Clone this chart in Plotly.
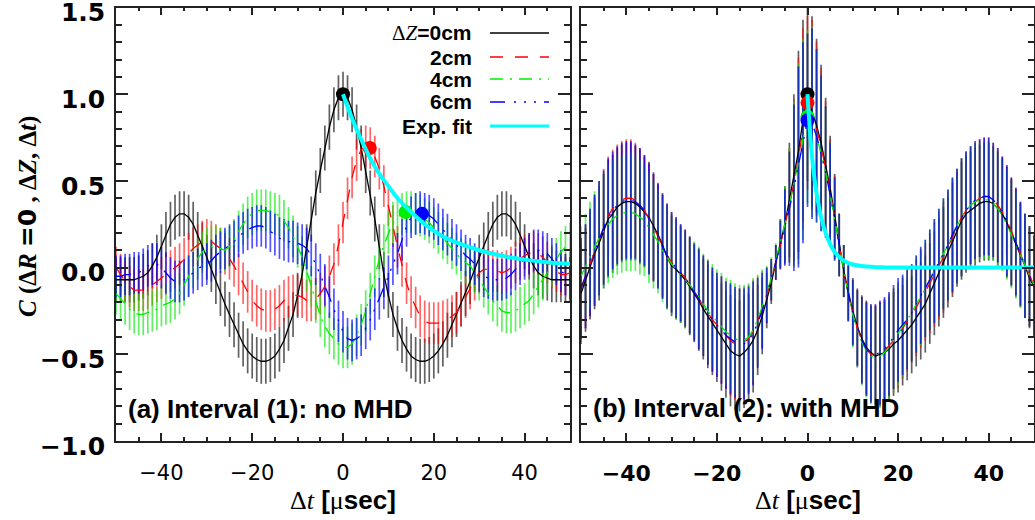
import plotly.graph_objects as go

# ---------------- data ----------------
t = list(range(-50, 51))

# panel (a): Interval (1), no MHD
a_dz0 = [-0.07,-0.07,-0.07,-0.07,-0.07,-0.06,-0.05,-0.03,0.01,0.06,
         0.12,0.19,0.25,0.29,0.31,0.31,0.29,0.25,0.19,0.13,
         0.06,-0.01,-0.08,-0.15,-0.21,-0.27,-0.33,-0.39,-0.44,-0.48,
         -0.51,-0.53,-0.54,-0.54,-0.53,-0.51,-0.47,-0.42,-0.35,-0.27,
         -0.16,-0.04,0.12,0.28,0.43,0.56,0.69,0.81,0.91,0.98,
         1.00,
         0.98,0.91,0.81,0.69,0.56,0.43,0.28,0.12,-0.04,-0.16,
         -0.27,-0.35,-0.42,-0.47,-0.51,-0.53,-0.54,-0.54,-0.53,-0.51,
         -0.48,-0.44,-0.39,-0.33,-0.27,-0.21,-0.15,-0.08,-0.01,0.06,
         0.13,0.19,0.25,0.29,0.31,0.31,0.29,0.25,0.19,0.12,
         0.06,0.01,-0.03,-0.05,-0.06,-0.07,-0.07,-0.07,-0.07,-0.07]
a_dz2 = [0.00,-0.04,-0.08,-0.11,-0.13,-0.13,-0.13,-0.12,-0.10,-0.08,
         -0.06,-0.04,-0.02,0.00,0.02,0.05,0.08,0.11,0.13,0.15,
         0.16,0.15,0.13,0.11,0.08,0.05,0.01,-0.04,-0.09,-0.14,
         -0.19,-0.22,-0.24,-0.25,-0.25,-0.24,-0.22,-0.19,-0.17,-0.16,
         -0.16,-0.17,-0.19,-0.19,-0.18,-0.15,-0.11,-0.05,0.02,0.13,
         0.26,
         0.40,0.52,0.62,0.68,0.70,0.69,0.64,0.57,0.47,0.36,
         0.24,0.12,0.01,-0.09,-0.17,-0.23,-0.28,-0.31,-0.32,-0.32,
         -0.32,-0.31,-0.30,-0.28,-0.26,-0.22,-0.17,-0.12,-0.07,-0.03,
         -0.01,-0.01,-0.02,-0.02,-0.03,-0.02,0.00,0.03,0.05,0.07,
         0.08,0.09,0.08,0.06,0.03,0.00,-0.02,-0.04,-0.04,-0.03]
a_dz4 = [-0.15,-0.18,-0.21,-0.24,-0.26,-0.27,-0.27,-0.26,-0.25,-0.24,
         -0.22,-0.21,-0.20,-0.18,-0.15,-0.10,-0.05,0.00,0.05,0.09,
         0.11,0.12,0.12,0.11,0.10,0.12,0.16,0.21,0.25,0.29,
         0.31,0.33,0.33,0.33,0.32,0.31,0.30,0.27,0.23,0.18,
         0.12,0.06,-0.02,-0.11,-0.20,-0.28,-0.34,-0.38,-0.41,-0.44,
         -0.46,
         -0.46,-0.44,-0.39,-0.33,-0.25,-0.15,-0.05,0.05,0.13,0.20,
         0.26,0.29,0.31,0.32,0.32,0.31,0.30,0.28,0.26,0.23,
         0.20,0.17,0.14,0.11,0.08,0.05,0.03,0.01,-0.03,-0.07,
         -0.11,-0.15,-0.19,-0.22,-0.25,-0.26,-0.26,-0.25,-0.23,-0.21,
         -0.19,-0.15,-0.11,-0.07,-0.03,0.01,0.05,0.09,0.12,0.14]
a_dz6 = [-0.05,-0.05,-0.04,-0.04,-0.03,-0.03,-0.01,0.01,0.02,0.02,
         0.00,-0.03,-0.06,-0.08,-0.08,-0.07,-0.05,-0.03,-0.01,0.01,
         0.02,0.04,0.07,0.09,0.11,0.13,0.15,0.18,0.20,0.22,
         0.23,0.24,0.24,0.23,0.21,0.19,0.17,0.16,0.15,0.15,
         0.14,0.13,0.11,0.07,0.02,-0.04,-0.10,-0.17,-0.24,-0.31,
         -0.37,
         -0.41,-0.42,-0.41,-0.39,-0.35,-0.30,-0.24,-0.18,-0.12,-0.05,
         0.02,0.08,0.16,0.24,0.29,0.31,0.32,0.31,0.30,0.28,
         0.25,0.22,0.19,0.16,0.13,0.10,0.07,0.05,0.02,-0.02,
         -0.05,-0.06,-0.07,-0.07,-0.07,-0.06,-0.04,-0.01,0.02,0.05,
         0.08,0.10,0.10,0.09,0.08,0.05,0.02,-0.02,-0.04,-0.06]
a_err = [0.13, 0.12, 0.12, 0.12]          # error bar half-length per series
a_peak_t = [0.0, 5.9, 13.8, 17.4]          # peak lag of each series
a_peak_c = [1.00, 0.69, 0.32, 0.31]
a_fit_t = [0, 2, 4, 6, 8, 10, 12, 15, 18, 22, 26, 30, 35, 40, 45, 50]
a_fit_c = [1.00, 0.86, 0.74, 0.63, 0.54, 0.47, 0.40, 0.32, 0.25, 0.18, 0.135, 0.10, 0.068, 0.046, 0.031, 0.021]

# panel (b): Interval (2), with MHD
b_dz0 = [-0.15,-0.07,0.01,0.08,0.14,0.21,0.28,0.31,0.35,0.37,
         0.38,0.38,0.37,0.35,0.32,0.29,0.24,0.19,0.13,0.06,
         0.01,-0.01,-0.04,-0.07,-0.11,-0.15,-0.19,-0.24,-0.28,-0.32,
         -0.36,-0.40,-0.44,-0.48,-0.50,-0.51,-0.49,-0.46,-0.42,-0.36,
         -0.28,-0.19,-0.09,0.03,0.14,0.25,0.39,0.52,0.67,0.85,
         1.00,
         0.90,0.82,0.72,0.60,0.46,0.30,0.13,-0.02,-0.14,-0.25,
         -0.34,-0.41,-0.46,-0.49,-0.51,-0.50,-0.49,-0.47,-0.44,-0.42,
         -0.39,-0.36,-0.33,-0.29,-0.25,-0.21,-0.15,-0.09,-0.03,0.03,
         0.09,0.16,0.22,0.27,0.31,0.33,0.35,0.37,0.38,0.38,
         0.37,0.34,0.31,0.26,0.20,0.14,0.07,0.01,-0.06,-0.11]
b_dz2 = [-0.12,-0.05,0.03,0.10,0.17,0.24,0.30,0.34,0.37,0.39,
         0.40,0.40,0.39,0.36,0.33,0.28,0.23,0.18,0.12,0.07,
         0.03,0.00,-0.03,-0.06,-0.10,-0.14,-0.18,-0.22,-0.26,-0.30,
         -0.33,-0.36,-0.39,-0.42,-0.44,-0.44,-0.43,-0.41,-0.37,-0.31,
         -0.24,-0.16,-0.07,0.03,0.13,0.24,0.36,0.49,0.63,0.80,
         0.95,
         0.88,0.80,0.70,0.58,0.44,0.29,0.13,-0.02,-0.15,-0.26,
         -0.35,-0.42,-0.47,-0.50,-0.51,-0.50,-0.48,-0.45,-0.42,-0.39,
         -0.35,-0.31,-0.27,-0.23,-0.18,-0.14,-0.09,-0.04,0.01,0.06,
         0.12,0.18,0.24,0.29,0.33,0.36,0.38,0.40,0.41,0.41,
         0.39,0.36,0.32,0.27,0.21,0.15,0.08,0.01,-0.05,-0.10]
b_dz4 = [-0.05,0.01,0.07,0.12,0.17,0.21,0.25,0.28,0.30,0.31,
         0.32,0.32,0.31,0.29,0.27,0.23,0.19,0.15,0.10,0.06,
         0.02,-0.01,-0.04,-0.07,-0.10,-0.13,-0.17,-0.21,-0.25,-0.28,
         -0.31,-0.34,-0.37,-0.39,-0.41,-0.42,-0.42,-0.40,-0.36,-0.30,
         -0.23,-0.15,-0.06,0.04,0.14,0.25,0.36,0.48,0.60,0.74,
         0.87,
         0.84,0.76,0.66,0.55,0.42,0.28,0.13,-0.02,-0.15,-0.27,
         -0.36,-0.43,-0.48,-0.51,-0.52,-0.51,-0.49,-0.46,-0.42,-0.38,
         -0.34,-0.30,-0.26,-0.21,-0.17,-0.12,-0.07,-0.02,0.03,0.08,
         0.13,0.19,0.24,0.29,0.33,0.36,0.38,0.39,0.39,0.39,
         0.37,0.34,0.30,0.25,0.19,0.13,0.07,0.01,-0.05,-0.10]
b_dz6 = [-0.12,-0.05,0.03,0.10,0.17,0.23,0.29,0.33,0.36,0.38,
         0.39,0.39,0.38,0.36,0.33,0.28,0.23,0.18,0.12,0.07,
         0.03,0.00,-0.03,-0.06,-0.10,-0.14,-0.18,-0.22,-0.26,-0.30,
         -0.33,-0.36,-0.39,-0.41,-0.43,-0.44,-0.44,-0.42,-0.38,-0.32,
         -0.25,-0.16,-0.07,0.03,0.13,0.23,0.34,0.46,0.58,0.72,
         0.85,
         0.83,0.76,0.66,0.55,0.42,0.28,0.13,-0.02,-0.15,-0.26,
         -0.35,-0.42,-0.47,-0.50,-0.50,-0.49,-0.47,-0.44,-0.40,-0.36,
         -0.33,-0.30,-0.26,-0.21,-0.16,-0.12,-0.07,-0.02,0.03,0.08,
         0.13,0.19,0.24,0.29,0.33,0.36,0.39,0.40,0.41,0.41,
         0.39,0.36,0.32,0.27,0.21,0.15,0.08,0.01,-0.05,-0.10]
b_err = [0.29,0.30,0.31,0.32,0.33,0.33,0.34,0.34,0.34,0.34,
         0.34,0.34,0.33,0.33,0.32,0.32,0.31,0.30,0.30,0.30,
         0.29,0.29,0.28,0.28,0.28,0.28,0.29,0.29,0.30,0.30,
         0.30,0.31,0.31,0.32,0.32,0.32,0.32,0.31,0.30,0.26,
         0.22,0.16,0.12,0.10,0.14,0.22,0.33,0.48,0.58,0.58,
         0.50,
         0.55,0.50,0.45,0.38,0.30,0.24,0.18,0.15,0.16,0.19,
         0.22,0.25,0.27,0.28,0.29,0.30,0.30,0.30,0.30,0.30,
         0.29,0.29,0.28,0.28,0.28,0.28,0.29,0.30,0.31,0.32,
         0.32,0.33,0.33,0.34,0.34,0.34,0.34,0.34,0.34,0.34,
         0.33,0.33,0.32,0.32,0.31,0.31,0.30,0.30,0.29,0.29]
b_peak_t = [0.0, 0.0, 0.0, 0.0]
b_peak_c = [1.00, 0.95, 0.87, 0.85]
b_fit_t = [0, 0.5, 1, 1.5, 2, 3, 4, 5, 6, 8, 10, 13, 16, 20, 30, 40, 50]
b_fit_c = [1.00, 0.80, 0.64, 0.52, 0.43, 0.29, 0.20, 0.135, 0.09, 0.04, 0.018, 0.006, 0.002, 0.0, 0.0, 0.0, 0.0]

y_ticks = [-1.0, -0.5, 0.0, 0.5, 1.0, 1.5]
x_ticks = [-40, -20, 0, 20, 40]
legend_labels = ["=0cm", "2cm", "4cm", "6cm", "Exp. fit"]

# ---------------- styling ----------------
colors = ["#000000", "#ff0000", "#00ee00", "#0000ff"]
bar_colors = ["rgba(0,0,0,0.62)", "rgba(255,0,0,0.6)", "rgba(0,230,0,0.62)", "rgba(0,0,255,0.68)"]
dashes = ["solid", "13px,12px", "13px,7px,2px,7px", "15px,9px,2px,8px,2px,8px,2px,8px"]
CYAN = "#00ffff"

W, H = 1035, 520
xa_dom = [116 / W, 570 / W]
xb_dom = [581 / W, 1034 / W]
y_dom = [1 - 441 / H, 1 - 7.5 / H]

fig = go.Figure()


def add_panel(xref, yref, series, errs, err_is_array, peak_t, peak_c, fit_t, fit_c):
    # error bars first
    for s, e, bc in zip(series, errs, bar_colors):
        ey = dict(type="data", array=e, visible=True) if err_is_array else dict(type="constant", value=e, visible=True)
        ey.update(color=bc, thickness=1.7, width=0)
        fig.add_trace(go.Scatter(x=t, y=s, xaxis=xref, yaxis=yref, mode="markers",
                                 marker=dict(size=1, color="rgba(0,0,0,0)"),
                                 error_y=ey, showlegend=False, hoverinfo="skip"))
    # curves
    for s, c, d in zip(series, colors, dashes):
        fig.add_trace(go.Scatter(x=t, y=s, xaxis=xref, yaxis=yref, mode="lines",
                                 line=dict(color=c, width=1.3, dash=d), showlegend=False))
    # peak dots
    for pt, pc, c in zip(peak_t, peak_c, colors):
        fig.add_trace(go.Scatter(x=[pt], y=[pc], xaxis=xref, yaxis=yref, mode="markers",
                                 marker=dict(size=14, color=c), showlegend=False))
    # exponential fit
    fig.add_trace(go.Scatter(x=fit_t, y=fit_c, xaxis=xref, yaxis=yref, mode="lines",
                             line=dict(color=CYAN, width=4, shape="spline"), showlegend=False))


add_panel("x", "y", [a_dz0, a_dz2, a_dz4, a_dz6], a_err, False, a_peak_t, a_peak_c, a_fit_t, a_fit_c)
add_panel("x2", "y2", [b_dz0, b_dz2, b_dz4, b_dz6], [b_err] * 4, True, b_peak_t, b_peak_c, b_fit_t, b_fit_c)

axis_common = dict(showgrid=False, zeroline=False, showline=True, linecolor="#222", linewidth=1.5,
                   ticks="inside", tickcolor="#222", tickwidth=1.5, mirror="allticks", automargin=False,
                   ticklabeloverflow="allow")

fig.update_layout(
    width=W, height=H,
    margin=dict(l=0, r=0, t=0, b=0),
    paper_bgcolor="white", plot_bgcolor="white",
    font=dict(family="DejaVu Sans", color="black"),
    showlegend=False,
    xaxis=dict(domain=xa_dom, anchor="y", range=[-50, 50], tickmode="array", tickvals=x_ticks,
               ticklen=8, minor=dict(dtick=5, ticklen=4, ticks="inside", tickcolor="#222"),
               tickfont=dict(family="DejaVu Sans", size=21), ticklabelstandoff=12, **axis_common),
    yaxis=dict(domain=y_dom, anchor="x", range=[-1.0, 1.5], tickmode="array", tickvals=y_ticks,
               ticktext=[f"{v:.1f}".replace("-", "\u2212") for v in y_ticks], ticklabelshift=5,
               ticklen=12, minor=dict(dtick=0.1, ticklen=6, ticks="inside", tickcolor="#222"),
               tickfont=dict(family="DejaVu Sans", size=25, weight="bold"), ticklabelstandoff=4, **axis_common),
    xaxis2=dict(domain=xb_dom, anchor="y2", range=[-50, 50], tickmode="array", tickvals=x_ticks,
                ticklen=8, minor=dict(dtick=5, ticklen=4, ticks="inside", tickcolor="#222"),
                tickfont=dict(family="DejaVu Sans", size=22, weight="bold"), ticklabelstandoff=12, **axis_common),
    yaxis2=dict(domain=y_dom, anchor="x2", range=[-1.0, 1.5], tickmode="array", tickvals=y_ticks,
                showticklabels=False,
                ticklen=12, minor=dict(dtick=0.1, ticklen=6, ticks="inside", tickcolor="#222"), **axis_common),
)

SERIF = "Liberation Serif"
ann = []
# y-axis title
ann.append(dict(xref="paper", yref="paper", x=27 / W, y=1 - 217 / H, xanchor="center", yanchor="middle",
                textangle=-90, showarrow=False,
                text="<i>C</i> (Δ<i>R</i> <span style='font-family:DejaVu Sans'>=0</span> , Δ<i>Z</i>, Δ<i>t</i>)",
                font=dict(family=SERIF, size=25, weight="bold")))
# x-axis titles
xt = ("<span style='font-family:Liberation Serif;font-weight:normal'>Δ<i>t</i></span> ["
      "<span style='font-family:Liberation Serif;font-weight:normal'>μ</span>sec]")
for cx in (343 / W, 808 / W):
    ann.append(dict(xref="paper", yref="paper", x=cx, y=1 - 500 / H, xanchor="center", yanchor="middle",
                    showarrow=False, text=xt, font=dict(family="Liberation Sans", size=26, weight="bold")))
# panel labels
ann.append(dict(xref="paper", yref="paper", x=126 / W, y=1 - 409 / H, xanchor="left", yanchor="middle",
                showarrow=False, text="(a) Interval (1): no MHD",
                font=dict(family="Liberation Sans", size=26, weight="bold")))
ann.append(dict(xref="paper", yref="paper", x=591 / W, y=1 - 408 / H, xanchor="left", yanchor="middle",
                showarrow=False, text="(b) Interval (2): with MHD",
                font=dict(family="Liberation Sans", size=26, weight="bold")))
# legend
row_y = [33, 57, 79, 102, 126]
leg_col = colors + [CYAN]
leg_dash = dashes + ["solid"]
leg_w = [1.3, 1.3, 1.3, 1.3, 3]
shapes = []
for i, lab in enumerate(legend_labels):
    txt = lab
    if i == 0:
        txt = "<span style='font-family:Liberation Serif;font-weight:normal'>Δ<i>Z</i></span>" + lab
    ann.append(dict(xref="paper", yref="paper", x=474 / W, y=1 - row_y[i] / H, xanchor="right", yanchor="middle",
                    showarrow=False, text=txt, font=dict(family="Liberation Sans", size=21, weight="bold")))
    shapes.append(dict(type="line", xref="paper", yref="paper", x0=490 / W, x1=549 / W,
                       y0=1 - row_y[i] / H, y1=1 - row_y[i] / H,
                       line=dict(color=leg_col[i], width=leg_w[i], dash=leg_dash[i])))
fig.update_layout(annotations=ann, shapes=shapes)

fig.write_html("out.html", config={"displayModeBar": False},
               post_script="document.body.style.margin='0';document.body.style.overflow='hidden';")
